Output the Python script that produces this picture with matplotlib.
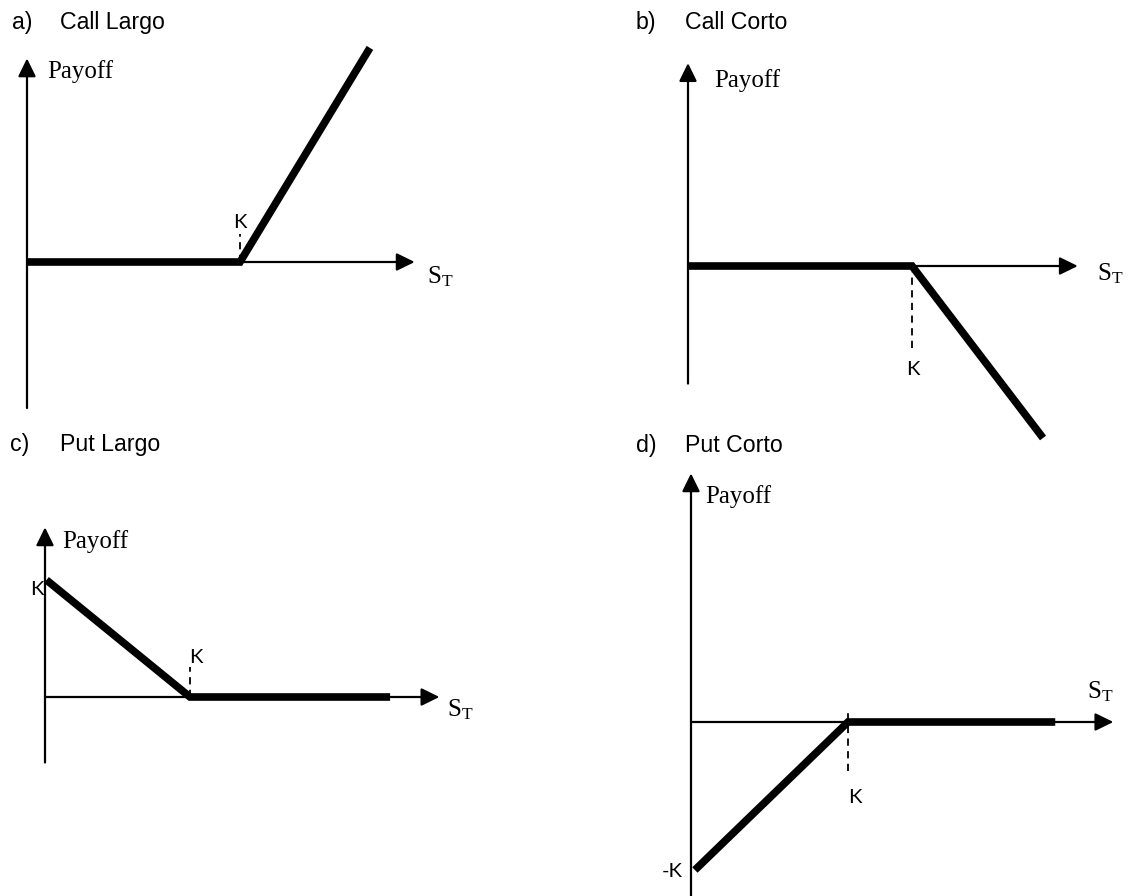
import matplotlib
matplotlib.use("Agg")
import matplotlib.pyplot as plt

# ---------------- data (strike K = 1, payoff units) ----------------
K = 1.0
call_long_S = [0.0, 1.0, 1.61]
call_long_P = [0.0, 0.0, 0.61]
call_short_S = [0.0, 1.0, 1.585]
call_short_P = [0.0, 0.0, -0.585]
put_long_S = [0.01, 1.0, 2.38]
put_long_P = [1.0, 0.0, 0.0]
put_short_S = [0.025, 1.0, 2.32]
put_short_P = [-1.0, 0.0, 0.0]

titles_letter = ["a)", "b)", "c)", "d)"]
titles_text = ["Call Largo", "Call Corto", "Put Largo", "Put Corto"]

W, H = 1130, 896
plt.rcParams["mathtext.fontset"] = "custom"
plt.rcParams["mathtext.rm"] = "Liberation Serif"
plt.rcParams["mathtext.it"] = "Liberation Serif:italic"

fig = plt.figure(figsize=(W / 100, H / 100), dpi=100)

SANS = "Liberation Sans"
SERIF = "Liberation Serif"
KFONT = "Lato"


def ftext(x, y, s, **kw):
    fig.text(x / W, 1 - y / H, s, va="baseline", **kw)


# layout per panel: origin pixel, px per unit x/y, axis extents
panels = [
    dict(o=(27, 262), sx=213, sy=351, xend=1.82, ylo=-0.416, yhi=0.58,
         S=call_long_S, P=call_long_P, dash=(0.0, 0.08)),
    dict(o=(688, 266), sx=224, sy=294, xend=1.74, ylo=-0.40, yhi=0.69,
         S=call_short_S, P=call_short_P, dash=(-0.28, -0.02)),
    dict(o=(45, 697), sx=145, sy=117, xend=2.72, ylo=-0.56, yhi=1.45,
         S=put_long_S, P=put_long_P, dash=(0.0, 0.26)),
    dict(o=(691, 722), sx=157, sy=148, xend=2.69, ylo=-1.18, yhi=1.68,
         S=put_short_S, P=put_short_P, dash=(-0.33, 0.07)),
]

arrow_kw = dict(arrowstyle="-|>,head_length=0.55,head_width=0.27",
                mutation_scale=20, lw=1.6, color="black",
                shrinkA=0, shrinkB=0)

for p in panels:
    ox, oy = p["o"]
    ax = fig.add_axes([0, 0, 1, 1])
    ax.set_xlim(-ox / p["sx"], (W - ox) / p["sx"])
    ax.set_ylim(-(H - oy) / p["sy"], oy / p["sy"])
    ax.set_axis_off()
    ax.patch.set_alpha(0)
    # axes arrows
    ax.annotate("", xy=(p["xend"], 0), xytext=(0, 0), arrowprops=arrow_kw)
    ax.annotate("", xy=(0, p["yhi"]), xytext=(0, p["ylo"]), arrowprops=arrow_kw)
    # dashed strike marker
    ax.plot([K, K], list(p["dash"]), color="black", lw=1.3,
            linestyle=(0, (4, 3)), clip_on=False)
    # payoff
    ax.plot(p["S"], p["P"], color="black", lw=5.5, solid_capstyle="butt",
            solid_joinstyle="miter", clip_on=False)

# titles
tpos = [(12, 60, 29), (636, 685, 29), (10, 60, 451), (636, 685, 452)]
for (xl, xt, yb), l, t in zip(tpos, titles_letter, titles_text):
    ftext(xl, yb, l, family=SANS, fontsize=16.7)
    ftext(xt, yb, t, family=SANS, fontsize=16.7)

# Payoff labels
for x, y in [(47, 78), (714, 87), (62, 548), (705, 503)]:
    ftext(x, y, "Payoff", family=SERIF, fontsize=18)

# S_T labels
for x, y in [(427, 283), (1097, 280), (447, 716), (1087, 698)]:
    ftext(x, y, r"$\mathrm{S}_{\mathrm{T}}$", fontsize=18)

# K labels
for x, y in [(240, 228), (913, 375), (196, 663), (855, 803)]:
    ftext(x, y, "K", family=KFONT, fontsize=14.5, ha="center")
ftext(43, 595, "K", family=KFONT, fontsize=14.5, ha="right")
ftext(683, 877, "-K", family=KFONT, fontsize=14.5, ha="right")

fig.savefig("out.png", dpi=100, facecolor="white")
